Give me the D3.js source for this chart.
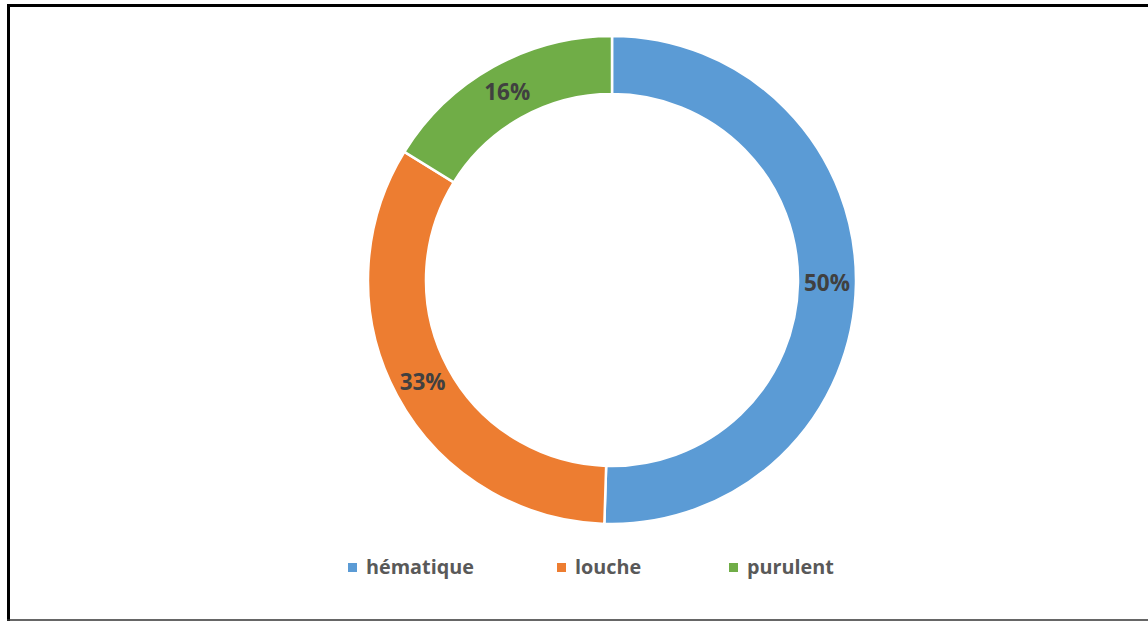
<!DOCTYPE html>
<html>
<head>
<meta charset="utf-8">
<script src="https://cdn.jsdelivr.net/npm/d3@7"></script>
<style>
  body { margin: 0; background: #fff; }
  svg { display: block; }
</style>
</head>
<body>
<script>
"use strict";

// data
const categories = ["hématique", "louche", "purulent"];
const values = [50.5, 33.3, 16.2];
const labels = ["50%", "33%", "16%"];
const colors = ["#5B9BD5", "#ED7D31", "#70AD47"];

const W = 1148, H = 621;
const cx = 612, cy = 280;
const outerR = 244, innerR = 186;

const svg = d3.select("body").append("svg")
    .attr("width", W)
    .attr("height", H);

// frame (top, left and bottom edges only, like the screenshot)
svg.append("line").attr("x1", 7).attr("x2", W).attr("y1", 5.5).attr("y2", 5.5)
    .attr("stroke", "#000").attr("stroke-width", 3);
svg.append("line").attr("x1", 8.5).attr("x2", 8.5).attr("y1", 4).attr("y2", H)
    .attr("stroke", "#000").attr("stroke-width", 3);
svg.append("line").attr("x1", 7).attr("x2", W).attr("y1", 620).attr("y2", 620)
    .attr("stroke", "#333").attr("stroke-width", 1.5);

const pie = d3.pie().sort(null).value(d => d);
const arc = d3.arc().innerRadius(innerR).outerRadius(outerR);

const g = svg.append("g").attr("transform", `translate(${cx},${cy})`);
const slices = pie(values);

g.selectAll("path")
    .data(slices)
    .enter()
    .append("path")
    .attr("d", arc)
    .attr("fill", (d, i) => colors[i])
    .attr("stroke", "#fff")
    .attr("stroke-width", 2.5);

g.selectAll("text.lbl")
    .data(slices)
    .enter()
    .append("text")
    .attr("class", "lbl")
    .attr("x", d => arc.centroid(d)[0])
    .attr("y", d => arc.centroid(d)[1])
    .attr("dy", "0.35em")
    .attr("text-anchor", "middle")
    .style("font-family", "'Open Sans', sans-serif")
    .style("font-weight", "bold")
    .style("font-size", "22.5px")
    .attr("fill", "#404040")
    .text((d, i) => labels[i]);

// legend
const legendX = [348, 557, 729];
const legend = svg.selectAll("g.leg")
    .data(categories)
    .enter()
    .append("g")
    .attr("class", "leg")
    .attr("transform", (d, i) => `translate(${legendX[i]},567)`);

legend.append("rect")
    .attr("x", 0).attr("y", -4)
    .attr("width", 9).attr("height", 9)
    .attr("fill", (d, i) => colors[i]);

legend.append("text")
    .attr("x", 18)
    .attr("y", 0)
    .attr("dy", "0.35em")
    .style("font-family", "'Open Sans', sans-serif")
    .style("font-weight", "bold")
    .style("font-size", "19.8px")
    .attr("fill", "#595959")
    .text(d => d);
</script>
</body>
</html>
